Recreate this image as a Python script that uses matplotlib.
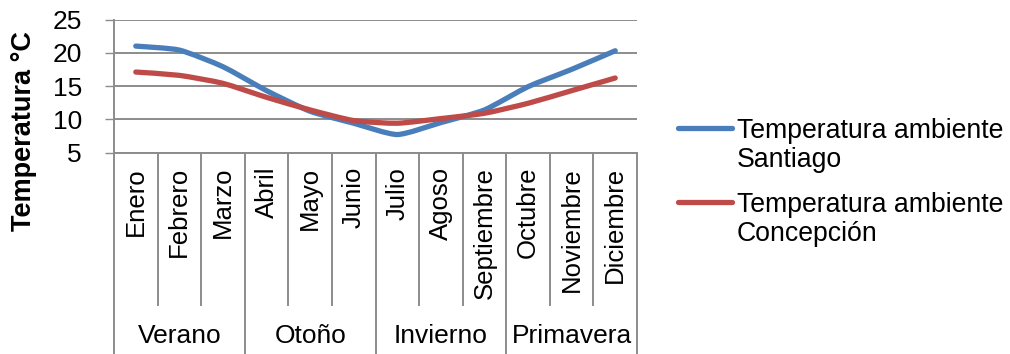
import matplotlib
matplotlib.use("Agg")
import matplotlib.pyplot as plt
import numpy as np
from matplotlib.path import Path
from matplotlib.patches import PathPatch
from matplotlib.lines import Line2D
import matplotlib.transforms as mtransforms

plt.rcParams['font.family'] = ['Liberation Sans', 'DejaVu Sans']

# Monthly mean temperatures (°C)
months = ["Enero", "Febrero", "Marzo", "Abril", "Mayo", "Junio",
          "Julio", "Agoso", "Septiembre", "Octubre", "Noviembre", "Diciembre"]
seasons = ["Verano", "Otoño", "Invierno", "Primavera"]
santiago = [21.0, 20.4, 17.9, 14.3, 11.2, 9.4, 7.7, 9.5, 11.4, 14.9, 17.5, 20.3]
concepcion = [17.1, 16.6, 15.4, 13.3, 11.4, 9.8, 9.4, 10.1, 10.9, 12.4, 14.3, 16.2]
series_labels = ["Temperatura ambiente\nSantiago", "Temperatura ambiente\nConcepción"]
yticks = [5, 10, 15, 20, 25]

BLUE = "#4A7EBB"
RED = "#BE4B48"
GRID = "#8C8C8C"

W, H = 1010, 354
fig = plt.figure(figsize=(W / 100, H / 100), dpi=100)


def fx(px):
    return px / W


def fy(py):
    return 1 - py / H


ax = fig.add_axes([fx(114), fy(152.5), fx(637) - fx(114), fy(19.5) - fy(152.5)])
ax.set_xlim(-0.5, len(months) - 0.5)
ax.set_ylim(5, 25)
ax.set_yticks(yticks)
ax.yaxis.grid(True, color=GRID, linewidth=1.4)
ax.set_axisbelow(True)
for side in ["top", "right", "bottom"]:
    ax.spines[side].set_visible(False)
ax.spines["left"].set_color(GRID)
ax.spines["left"].set_linewidth(1.4)
ax.set_xticks([])
ax.tick_params(axis="y", length=6.5, width=1.0, color=GRID, pad=16.5,
               labelsize=19, labelcolor="black")


def smooth_path(xs, ys, t=0.1):
    """Lightly smoothed path built from cubic Bezier segments."""
    pts = np.column_stack([xs, ys]).astype(float)
    n = len(pts)
    verts = [pts[0]]
    codes = [Path.MOVETO]
    for i in range(n - 1):
        p0 = pts[i - 1] if i > 0 else pts[i]
        p1 = pts[i]
        p2 = pts[i + 1]
        p3 = pts[i + 2] if i + 2 < n else pts[i + 1]
        c1 = p1 + (p2 - p0) * t
        c2 = p2 - (p3 - p1) * t
        verts += [c1, c2, p2]
        codes += [Path.CURVE4] * 3
    return Path(verts, codes)


x = np.arange(len(months))
for vals, col in [(santiago, BLUE), (concepcion, RED)]:
    patch = PathPatch(smooth_path(x, vals), fill=False, edgecolor=col,
                      linewidth=3.8, capstyle="round", joinstyle="round",
                      zorder=3)
    ax.add_patch(patch)

# Multi-level category axis
trans = mtransforms.blended_transform_factory(ax.transData, fig.transFigure)
y_axis = fy(152.5)
for b in range(len(months) + 1):
    xb = b - 0.5
    bottom = fy(H) if b % 3 == 0 else fy(305)
    ax.add_line(Line2D([xb, xb], [y_axis, bottom], transform=trans,
                       color=GRID, linewidth=1.4, clip_on=False))
ax.add_line(Line2D([-0.5, len(months) - 0.5], [y_axis, y_axis], transform=trans,
                   color=GRID, linewidth=1.4, clip_on=False))

for i, m in enumerate(months):
    ax.text(i, fy(167), m, transform=trans, rotation=90, ha="center",
            va="top", fontsize=18.5)
for j, s in enumerate(seasons):
    ax.text(3 * j + 1, fy(336), s, transform=trans, ha="center",
            va="center", fontsize=19)

fig.text(fx(24), fy(131), "Temperatura °C", rotation=90, ha="center",
         va="center", fontsize=19.5, fontweight="bold")

# Legend
for k, (lab, col) in enumerate(zip(series_labels, [BLUE, RED])):
    ly = 128 + k * 74
    fig.add_artist(Line2D([fx(678), fx(732)], [fy(ly), fy(ly)], color=col,
                          linewidth=3.8, solid_capstyle="round"))
    for r, part in enumerate(lab.split("\n")):
        fig.text(fx(737), fy(ly + 29 * r), part, ha="left",
                 va="center_baseline", fontsize=19.2)

fig.savefig("out.png", dpi=100)
